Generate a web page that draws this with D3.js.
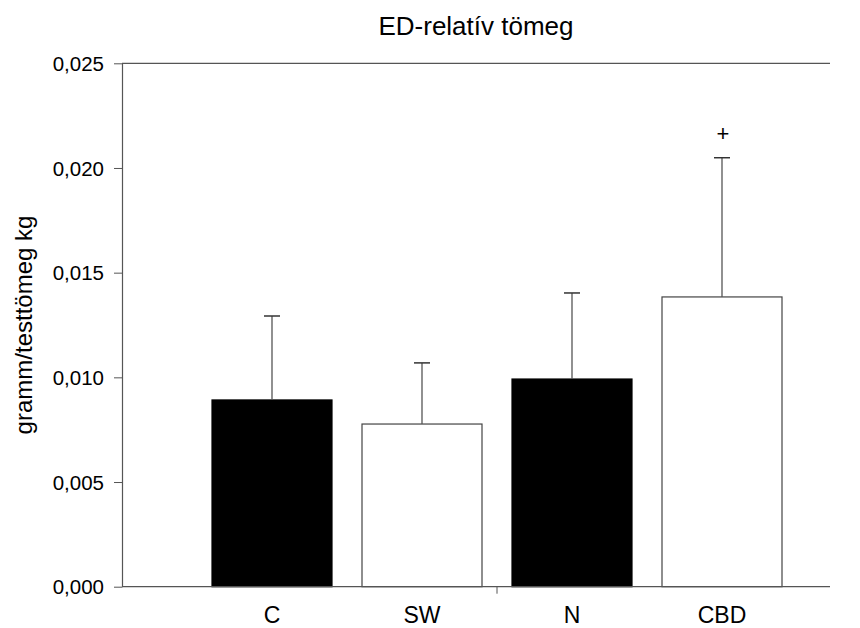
<!DOCTYPE html>
<html>
<head>
<script src="https://d3js.org/d3.v7.min.js"></script>
<style>
  body { margin: 0; background: #fff; }
  svg text { font-family: "Liberation Sans", Arial, sans-serif; fill: #000; }
</style>
</head>
<body>
<svg id="chart" width="860" height="628"></svg>
<script>
var groups = ["C", "SW", "N", "CBD"];
var means = [0.00892, 0.00777, 0.00992, 0.01384];
var errs = [0.00401, 0.00292, 0.00411, 0.00665];
var fills = ["#000", "#fff", "#000", "#fff"];
var marks = ["", "", "", "+"];
var yTicks = [0, 0.005, 0.010, 0.015, 0.020, 0.025];

var svg = d3.select("#chart");
var plotLeft = 122, plotRight = 830, plotTop = 63.3, plotBottom = 586.7;

var x = d3.scaleBand().domain(groups).range([197, 797]).paddingInner(0.2).paddingOuter(0.1);
var y = d3.scaleLinear().domain([0, 0.025]).range([plotBottom, plotTop]);
var fmt = function(d) { return d3.format(".3f")(d).replace(".", ","); };

// title
svg.append("text")
  .attr("x", 476).attr("y", 35)
  .attr("text-anchor", "middle")
  .style("font-size", "26px")
  .text("ED-relatív tömeg");

// top frame line
svg.append("line")
  .attr("x1", plotLeft).attr("x2", plotRight).attr("y1", plotTop).attr("y2", plotTop)
  .attr("stroke", "#555").attr("stroke-width", 1.2);

// y axis
var yAxis = svg.append("g")
  .attr("transform", "translate(" + plotLeft + ",0)")
  .call(d3.axisLeft(y).tickValues(yTicks).tickFormat(fmt).tickSize(8).tickSizeOuter(0));
yAxis.select(".domain").attr("stroke", "#555").attr("stroke-width", 1.2);
yAxis.selectAll(".tick line").attr("stroke", "#555");
yAxis.selectAll(".tick text").attr("x", -18).attr("dy", "0.35em")
  .style("font-size", "20.5px").style("font-family", "Liberation Sans, Arial, sans-serif");

svg.append("text")
  .attr("transform", "translate(32," + ((plotTop + plotBottom) / 2) + ") rotate(-90)")
  .attr("text-anchor", "middle")
  .style("font-size", "24px")
  .text("gramm/testtömeg kg");

// bars
svg.selectAll("rect.bar").data(groups).enter().append("rect")
  .attr("class", "bar")
  .attr("x", function(d) { return x(d); })
  .attr("width", x.bandwidth())
  .attr("y", function(d, i) { return y(means[i]); })
  .attr("height", function(d, i) { return plotBottom - y(means[i]); })
  .attr("fill", function(d, i) { return fills[i]; })
  .attr("stroke", function(d, i) { return fills[i] == "#000" ? "#000" : "#444"; })
  .attr("stroke-width", 1.2);

// error bars
var eg = svg.selectAll("g.err").data(groups).enter().append("g").attr("class", "err");
eg.append("line")
  .attr("x1", function(d) { return x(d) + x.bandwidth() / 2; })
  .attr("x2", function(d) { return x(d) + x.bandwidth() / 2; })
  .attr("y1", function(d, i) { return y(means[i]); })
  .attr("y2", function(d, i) { return y(means[i] + errs[i]); })
  .attr("stroke", "#555").attr("stroke-width", 1.3);
eg.append("line")
  .attr("x1", function(d) { return x(d) + x.bandwidth() / 2 - 8; })
  .attr("x2", function(d) { return x(d) + x.bandwidth() / 2 + 8; })
  .attr("y1", function(d, i) { return y(means[i] + errs[i]); })
  .attr("y2", function(d, i) { return y(means[i] + errs[i]); })
  .attr("stroke", "#333").attr("stroke-width", 1.5);

svg.selectAll("text.mark").data(groups).enter().append("text")
  .attr("class", "mark")
  .attr("x", function(d) { return x(d) + x.bandwidth() / 2 + 1; })
  .attr("y", function(d, i) { return y(means[i] + errs[i]) - 17; })
  .attr("text-anchor", "middle")
  .style("font-size", "22px")
  .text(function(d, i) { return marks[i]; });

// x axis
svg.append("line")
  .attr("x1", plotLeft).attr("x2", plotRight).attr("y1", plotBottom).attr("y2", plotBottom)
  .attr("stroke", "#555").attr("stroke-width", 1.2);
var mid = (x("SW") + x("N") + x.bandwidth()) / 2;
svg.append("line")
  .attr("x1", mid).attr("x2", mid).attr("y1", plotBottom).attr("y2", plotBottom + 7)
  .attr("stroke", "#555");
svg.selectAll("text.xl").data(groups).enter().append("text")
  .attr("class", "xl")
  .attr("x", function(d) { return x(d) + x.bandwidth() / 2; })
  .attr("y", 623)
  .attr("text-anchor", "middle")
  .style("font-size", "23px")
  .text(function(d) { return d; });
</script>
</body>
</html>
